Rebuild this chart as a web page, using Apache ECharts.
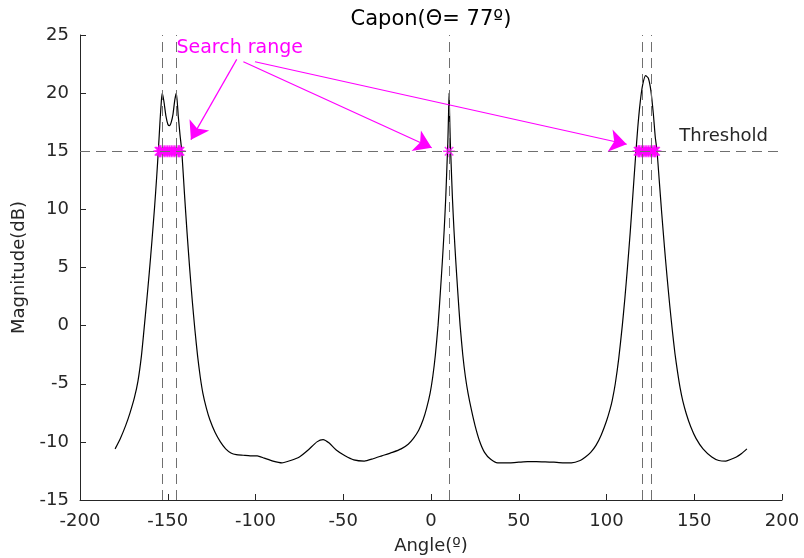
<!DOCTYPE html>
<html><head><meta charset="utf-8">
<script src="https://cdn.jsdelivr.net/npm/echarts@6/dist/echarts.min.js"></script>
<style>html,body{margin:0;padding:0;background:#fff}#c{width:804px;height:558px}</style>
</head><body><div id="c"></div>
<script>
// ---- data ----
const angles = [-180,-177,-174,-171.5,-169,-167,-165,-163.5,-162,-160.5,-159,-157.5,-156.3,-155.3,-154.4,-153.6,-153.1,-152.2,-151,-149.9,-149,-148,-147,-146,-145.1,-144,-143,-142,-140.5,-139,-137.5,-136,-134.5,-133,-131.5,-130,-128,-126,-123,-120,-117,-114,-111,-107,-103,-99,-95,-90,-85,-80,-75,-70,-65,-61.5,-58,-54,-49,-44,-38,-33,-28,-22,-17,-13,-10,-7,-4.5,-2.5,-0.5,1,2.5,4,5.3,6.5,7.5,8.4,9.1,9.6,10.0,10.3,10.6,11.0,11.5,12.2,13.1,14.1,15.3,16.6,18.1,19.6,21.1,23.1,25.1,27.6,30.5,34,38,45,50,55,60,65,70,75,80,85,88,91,94,97,100,102,103.3,105,107,109,110.5,112,113.5,115,116.5,117.8,119.2,120.6,122.3,123.8,125.3,126.7,127.8,128.8,130,131.5,133,134.5,136,137.5,139,140.5,142,143.5,145.5,148,151,155,160,164,168,171,174,177,180];
const magnitudes = [-10.6,-9.7,-8.6,-7.5,-6.2,-4.8,-2.6,-0.3,2.1,4.6,7.3,10.2,12.8,15.2,17.6,19.4,20.0,19.3,18.0,17.3,17.2,17.5,18.2,19.4,20.0,18.0,16.4,15.0,11.4,8.0,4.9,2.1,-0.4,-2.6,-4.4,-5.8,-7.1,-8.1,-9.2,-10.0,-10.6,-10.95,-11.1,-11.15,-11.2,-11.2,-11.4,-11.65,-11.8,-11.6,-11.3,-10.7,-10.0,-9.8,-10.1,-10.7,-11.2,-11.55,-11.65,-11.45,-11.2,-10.9,-10.6,-10.2,-9.7,-9.0,-8.1,-7.1,-5.8,-4.4,-2.5,0.0,2.8,5.6,8.2,11.0,13.8,15.8,18.2,20.0,18.2,15.8,13.8,11.0,8.2,5.6,2.8,0.0,-2.5,-4.4,-5.8,-7.3,-8.6,-9.9,-10.9,-11.5,-11.8,-11.8,-11.75,-11.7,-11.7,-11.72,-11.75,-11.8,-11.8,-11.6,-11.3,-10.9,-10.3,-9.4,-8.2,-7.2,-6.4,-5.0,-2.8,0.0,2.4,5.1,8.0,11.2,14.4,17.0,19.2,20.7,21.5,21.3,20.2,18.2,16.2,15.0,12.6,9.6,6.8,4.2,1.8,-0.4,-2.4,-4.0,-5.4,-6.5,-7.6,-8.7,-9.7,-10.6,-11.3,-11.6,-11.65,-11.5,-11.3,-11.0,-10.6];
const doaAngles = [-153, -145, 10.3, 120.2, 125.3];
const threshold = 15;
const searchAngles = [-155,-154.5,-154,-153,-152,-151,-150,-149,-148,-147,-146,-145,-144,-143.5,-143,10.3,118,118.5,119,120,121,122,123,124,125,126,127,127.5,128];
const xTicks = {min: -200, max: 200, step: 50};
const yTicks = {min: -15, max: 25, step: 5};
const titleText = 'Capon(\u0398= 77\u00ba)';
const searchLabel = 'Search range';
const thresholdLabel = 'Threshold';
// annotation anchors (data coordinates)
const labelAnchor = [-109, 23.9];
const arrowStarts = [[-110.7, 22.9], [-106.9, 22.7], [-100.3, 22.7]];
const arrowEnds = [[-136.8, 16.0], [0.4, 15.3], [111.5, 15.6]];
const thresholdAnchor = [141.5, 16.3];

// ---- chart ----
const FONT = 'DejaVu Sans';
const TXT = '#262626';
const MAG = '#ff00ff';
const chart = echarts.init(document.getElementById('c'), null, {renderer: 'canvas'});
const curve = angles.map((a, i) => [a, magnitudes[i]]);
const stars = searchAngles.map(a => [a, threshold]);
const asterisk = 'path://M0,-10L0,10M-10,0L10,0M-7.07,-7.07L7.07,7.07M-7.07,7.07L7.07,-7.07';
const dashStyle = {color: '#6f6f6f', width: 1, type: [10, 6], dashOffset: 0};

const axisCommon = {
  type: 'value',
  axisLine: {show: true, onZero: false, lineStyle: {color: TXT, width: 1}},
  axisTick: {show: true, inside: true, length: 6, lineStyle: {color: TXT}},
  splitLine: {show: false},
  axisLabel: {color: TXT, fontSize: 18, fontFamily: FONT},
  nameTextStyle: {color: TXT, fontSize: 18, fontFamily: FONT}
};

chart.setOption({
  animation: false,
  backgroundColor: '#fff',
  title: {text: titleText, left: 426, top: 4, textAlign: 'center',
          textStyle: {color: '#000', fontSize: 21, fontWeight: 'normal', fontFamily: FONT}},
  grid: {left: 80, right: 22, top: 35, bottom: 58, containLabel: false, outerBoundsMode: 'none'},
  xAxis: Object.assign({}, axisCommon, {
    min: xTicks.min, max: xTicks.max, interval: xTicks.step,
    name: 'Angle(\u00ba)', nameLocation: 'middle', nameGap: 37,
    axisLabel: Object.assign({}, axisCommon.axisLabel, {margin: 12})
  }),
  yAxis: Object.assign({}, axisCommon, {
    min: yTicks.min, max: yTicks.max, interval: yTicks.step,
    name: 'Magnitude(dB)', nameLocation: 'middle', nameGap: 52,
    axisLabel: Object.assign({}, axisCommon.axisLabel, {margin: 11})
  }),
  series: [
    {
      type: 'line', data: curve, symbol: 'none', smooth: 0.2,
      lineStyle: {color: '#000', width: 1.2}, z: 3,
      markLine: {
        silent: true, symbol: 'none', label: {show: false}, animation: false,
        lineStyle: dashStyle,
        data: doaAngles.map(a => ({xAxis: a})).concat([{yAxis: threshold}])
      }
    },
    {
      type: 'scatter', data: stars, symbol: asterisk, symbolSize: 12, z: 4,
      itemStyle: {color: 'none', borderColor: MAG, borderWidth: 1.5}
    },
    {
      type: 'line', data: [], z: 5, color: MAG,
      markLine: {
        silent: true, symbol: ['none', 'arrow'], symbolSize: 17, label: {show: false},
        animation: false,
        itemStyle: {color: MAG},
        lineStyle: {color: MAG, width: 1.2, type: 'solid'},
        data: arrowStarts.map((s, i) => [
          {coord: s, symbol: 'none'},
          {coord: arrowEnds[i], symbol: 'arrow', symbolSize: 17}
        ])
      }
    }
  ]
});

const lp = chart.convertToPixel({gridIndex: 0}, labelAnchor);
const tp = chart.convertToPixel({gridIndex: 0}, thresholdAnchor);
chart.setOption({
  graphic: [
    {type: 'text', x: lp[0], y: lp[1], style: {text: searchLabel, fill: MAG, font: '19px "' + FONT + '"', align: 'center', verticalAlign: 'middle'}},
    {type: 'text', x: tp[0], y: tp[1], style: {text: thresholdLabel, fill: TXT, font: '18px "' + FONT + '"', align: 'left', verticalAlign: 'middle'}}
  ]
});
</script>
</body></html>
